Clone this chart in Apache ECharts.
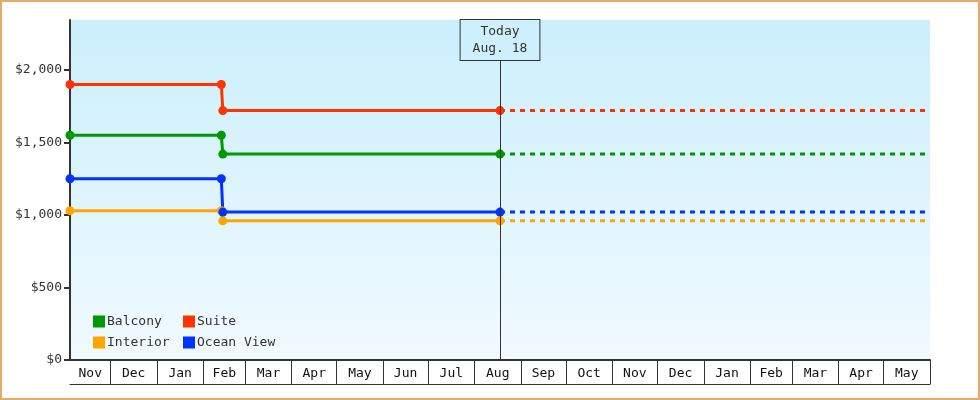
<!DOCTYPE html>
<html>
<head>
<meta charset="utf-8">
<script src="https://cdn.jsdelivr.net/npm/echarts@6/dist/echarts.min.js"></script>
<style>
  html, body { margin: 0; padding: 0; background: #fff; }
  #main { width: 980px; height: 400px; }
</style>
</head>
<body>
<div id="main"></div>
<script>
// dates where the fares are marked
var pointDates = ['2012-11-04', '2013-02-13', '2013-02-14', '2013-08-18'];
var todayDate = '2013-08-18';
var startDate = [2012, 10, 4];
var endDate = [2014, 5, 1];

var balcony = [1550, 1550, 1420, 1420];
var suite = [1900, 1900, 1720, 1720];
var interior = [1030, 1030, 960, 960];
var oceanView = [1250, 1250, 1020, 1020];

var yTicks = [0, 500, 1000, 1500, 2000];
var monthNames = ['Jan', 'Feb', 'Mar', 'Apr', 'May', 'Jun', 'Jul', 'Aug', 'Sep', 'Oct', 'Nov', 'Dec'];

var FONT = 'DejaVu Sans Mono';

function ts(a) { return new Date(a[0], a[1], a[2]).getTime(); }
function parse(s) { var p = s.split('-'); return new Date(+p[0], +p[1] - 1, +p[2]).getTime(); }

var xMin = ts(startDate);
var xMax = ts(endDate);

// month boundaries and label positions
var monthStarts = [];
var monthMids = [];
(function () {
  var d = new Date(startDate[0], startDate[1], 1);
  while (d.getTime() < xMax) {
    var s = Math.max(d.getTime(), xMin);
    var n = new Date(d.getFullYear(), d.getMonth() + 1, 1);
    var e = Math.min(n.getTime(), xMax);
    monthMids.push((s + e) / 2);
    monthStarts.push(n.getTime());
    d = n;
  }
})();

function pastData(vals) {
  return pointDates.map(function (d, i) { return [parse(d), vals[i]]; });
}
function futureData(vals) {
  var last = vals[vals.length - 1];
  return [[parse(todayDate), last], [xMax, last]];
}

var colors = {
  'Balcony': '#009900',
  'Suite': '#ff3300',
  'Interior': '#ffa500',
  'Ocean View': '#0033ff'
};
var seriesVals = {
  'Balcony': balcony,
  'Suite': suite,
  'Interior': interior,
  'Ocean View': oceanView
};

var series = [];
['Interior', 'Ocean View', 'Balcony', 'Suite'].forEach(function (name) {
  var c = colors[name];
  series.push({
    name: name,
    type: 'line',
    data: pastData(seriesVals[name]),
    symbol: 'circle',
    symbolSize: 9,
    lineStyle: { color: c, width: 3 },
    itemStyle: { color: c },
    animation: false
  });
  series.push({
    name: name,
    type: 'line',
    data: futureData(seriesVals[name]),
    showSymbol: false,
    lineStyle: { color: c, width: 3, type: [5, 5] },
    itemStyle: { color: c },
    animation: false
  });
});

// today marker
series.push({
  type: 'line',
  data: [],
  animation: false,
  markLine: {
    silent: true,
    symbol: 'none',
    animation: false,
    lineStyle: { color: '#333', width: 1, type: 'solid' },
    label: {
      show: true,
      position: 'end',
      distance: 0,
      formatter: 'Today\nAug. 18',
      fontFamily: FONT,
      fontSize: 13,
      lineHeight: 17,
      color: '#333',
      borderColor: '#333',
      borderWidth: 1,
      backgroundColor: '#cdf0fc',
      padding: [3, 12, 3, 12],
      align: 'center'
    },
    data: [[{ coord: [parse(todayDate), 0] }, { coord: [parse(todayDate), 2069] }]]
  }
});

var chart = echarts.init(document.getElementById('main'));
chart.setOption({
  animation: false,
  grid: {
    left: 70, right: 50, top: 20, bottom: 40,
    show: true,
    borderWidth: 0,
    backgroundColor: new echarts.graphic.LinearGradient(0, 0, 0, 1, [
      { offset: 0, color: '#cbeffc' },
      { offset: 1, color: '#f1faff' }
    ])
  },
  legend: [{
    orient: 'vertical',
    left: 88, top: 310,
    itemWidth: 12, itemHeight: 12, itemGap: 8,
    icon: 'rect',
    data: ['Balcony', 'Interior'],
    textStyle: { fontFamily: FONT, fontSize: 13, color: '#333', padding: [0, 0, 0, -3] }
  }, {
    orient: 'vertical',
    left: 178, top: 310,
    itemWidth: 12, itemHeight: 12, itemGap: 8,
    icon: 'rect',
    data: ['Suite', 'Ocean View'],
    textStyle: { fontFamily: FONT, fontSize: 13, color: '#333', padding: [0, 0, 0, -3] }
  }],
  xAxis: [{
    type: 'value',
    min: xMin, max: xMax,
    axisLine: { lineStyle: { color: '#333', width: 2 } },
    axisTick: {
      show: true, inside: false, length: 24,
      customValues: monthStarts,
      lineStyle: { color: '#333', width: 1 }
    },
    axisLabel: {
      customValues: monthMids,
      margin: 7,
      fontFamily: FONT, fontSize: 13, color: '#111',
      formatter: function (v) { return monthNames[new Date(v).getMonth()]; }
    },
    splitLine: { show: false }
  }, {
    type: 'value',
    min: xMin, max: xMax,
    position: 'bottom',
    offset: 24,
    axisLine: { show: true, lineStyle: { color: '#333', width: 1 } },
    axisTick: { show: false },
    axisLabel: { show: false },
    splitLine: { show: false }
  }],
  yAxis: {
    type: 'value',
    min: 0, max: 2345,
    axisLine: { show: true, lineStyle: { color: '#333', width: 2 } },
    axisTick: { show: true, length: 6, customValues: yTicks, lineStyle: { color: '#333', width: 2 } },
    axisLabel: {
      customValues: yTicks,
      margin: 8,
      fontFamily: FONT, fontSize: 13, color: '#333',
      formatter: function (v) { return '$' + v.toLocaleString('en-US'); }
    },
    splitLine: { show: false }
  },
  graphic: [{
    type: 'rect',
    shape: { x: 1, y: 1, width: 978, height: 398 },
    style: { fill: 'none', stroke: '#e8aa6a', lineWidth: 2 },
    silent: true
  }],
  series: series
});
</script>
</body>
</html>
